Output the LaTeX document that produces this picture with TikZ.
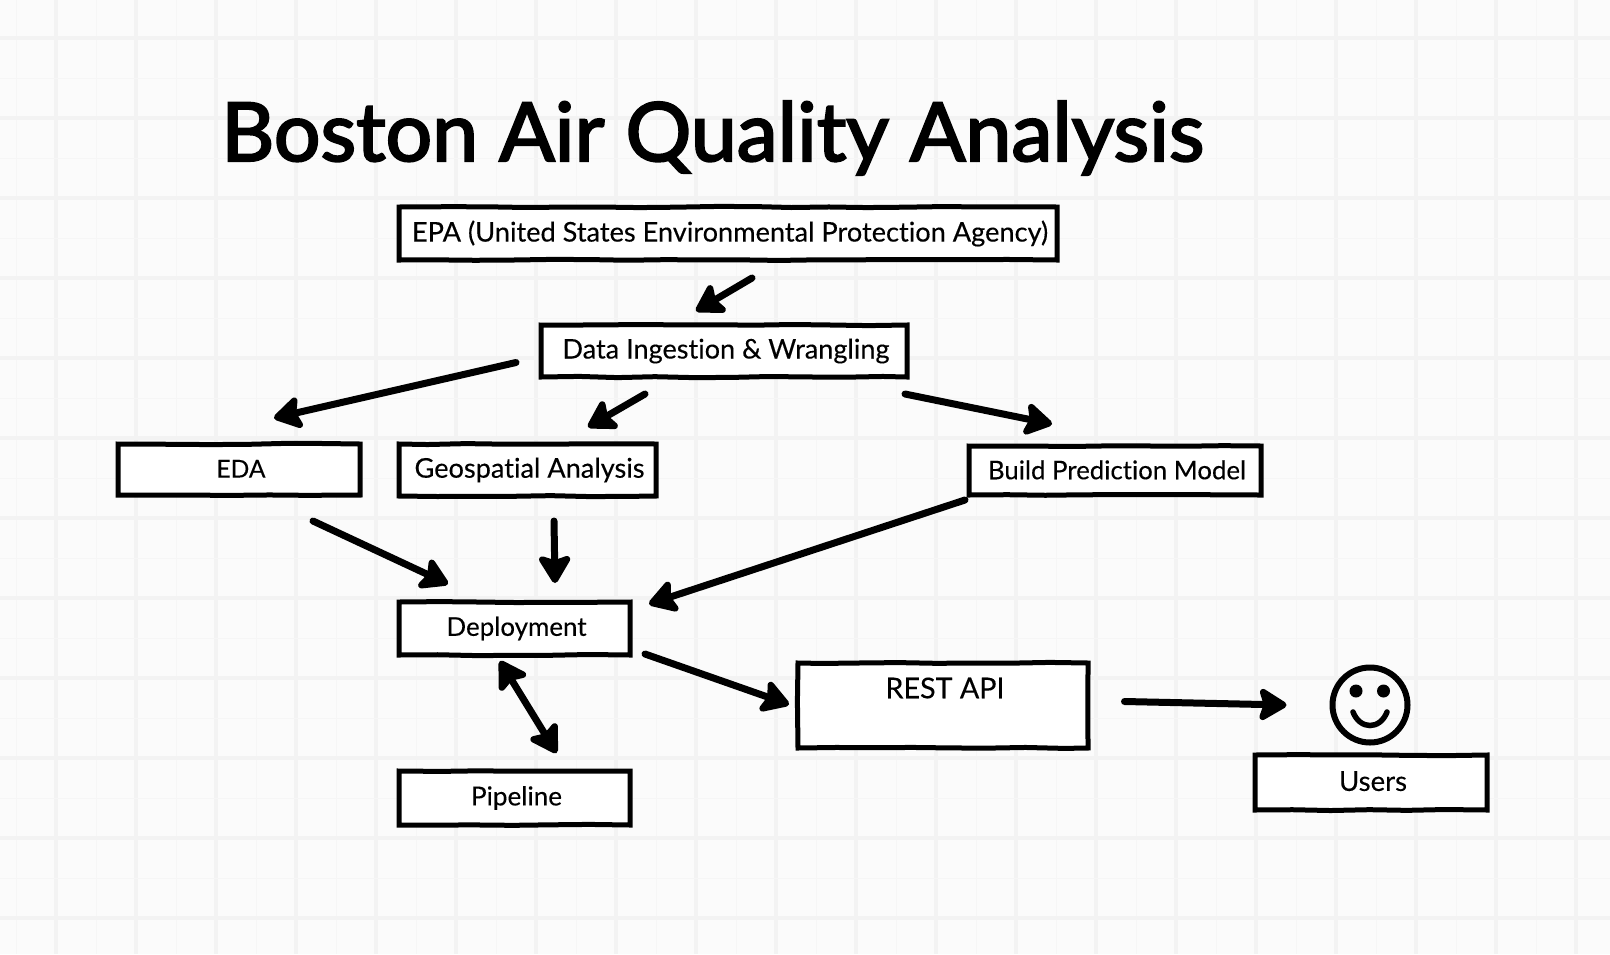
\documentclass[tikz,border=0pt]{standalone}
\usepackage{fontspec}
\setmainfont{Lato}[Ligatures=NoCommon]
\newfontfamily\titlefont{Lato}[Ligatures=NoCommon,FakeBold=2.6]
\newfontfamily\labelfont{Lato}[Ligatures=NoCommon,FakeBold=0.25]
\usetikzlibrary{arrows.meta,decorations.pathmorphing}
\definecolor{paper}{HTML}{FBFBFB}
\definecolor{gridmajor}{HTML}{F3F3F3}
\definecolor{gridminor}{HTML}{F6F6F6}
\newcommand{\lbl}[2]{\hspace{4pt}\raisebox{1.5pt}{\resizebox{#1 pt}{!}{\labelfont\fontsize{24}{28}\selectfont #2}}}
\tikzset{
  x=1pt,y=-1pt,
  box/.style={draw=black,fill=white,line width=5pt,inner sep=0pt,anchor=north west,
    decorate,decoration={random steps,segment length=38pt,amplitude=0.6pt}},
  headtip/.tip={Stealth[length=32pt,width=38pt,inset=6pt,round]},
  flow/.style={draw=black,line width=7pt,line cap=round,-headtip},
  flowboth/.style={draw=black,line width=7pt,line cap=round,headtip-headtip},
  face/.style={draw=black,line width=6pt,circle,inner sep=0pt,minimum size=75pt},
}
\newcommand{\boxat}[6]{%
  \node[box,minimum width=#4 pt - #2 pt - 3pt,minimum height=#5 pt - #3 pt - 3pt,xshift=-0.5pt,yshift=1.5pt] (#1) at (#2,#3) {#6};}
\begin{document}
\begin{tikzpicture}
\useasboundingbox (0,0) rectangle (1610,954);
\fill[paper] (0,0) rectangle (1610,954);
\foreach \k in {0,...,19} {
  \draw[gridminor,line width=1pt] ({16.5+80*\k},0) -- ({16.5+80*\k},954);
  \draw[gridmajor,line width=3.5pt] ({56+80*\k},0) -- ({56+80*\k},954);
}
\foreach \k in {0,...,11} {
  \draw[gridminor,line width=1pt] (0,{78.5+80*\k}) -- (1610,{78.5+80*\k});
  \draw[gridmajor,line width=3.5pt] (0,{38+80*\k}) -- (1610,{38+80*\k});
}
\pgfmathsetseed{7}
\node[anchor=base west,inner sep=0pt] (title) at (221,161)
  {\resizebox{983pt}{60pt}{\titlefont\fontsize{72}{80}\selectfont Boston Air Quality Analysis}};
\boxat{epa}{397}{206}{1058}{262}{\lbl{636}{EPA (United States Environmental Protection Agency)}}
\boxat{ingest}{539}{324}{908}{379}{\lbl{327}{Data Ingestion \& Wrangling}}
\boxat{eda}{116}{443}{361}{497}{\lbl{49}{EDA}}
\boxat{geo}{397}{443}{657}{498}{\lbl{230}{Geospatial Analysis}}
\boxat{build}{967}{445}{1262}{497}{\lbl{258}{Build Prediction Model}}
\boxat{deploy}{397}{601}{631}{657}{\lbl{140}{Deployment}}
\boxat{rest}{796}{662}{1089}{750}{}
\node[anchor=center,inner sep=0pt] (restlabel) at (945,688) {\resizebox{119pt}{!}{\labelfont\fontsize{24}{28}\selectfont REST API}};
\boxat{pipe}{397}{770}{631}{827}{\lbl{91}{Pipeline}}
\boxat{users}{1253}{754}{1488}{812}{\hspace{4pt}\raisebox{3pt}{\resizebox{68pt}{!}{\labelfont\fontsize{24}{28}\selectfont Users}}}
\node[face] (smiley) at (1370,705) {};
\fill (1356,691) circle (6.5);
\fill (1383.5,691) circle (6.5);
\draw[line width=5.5pt,line cap=round] (1353,712) .. controls (1360,730) and (1380,730) .. (1387,712);
% connectors: anchored on the named boxes
\draw[flow] ([xshift=24pt,yshift=-15.5pt]epa.south) -- ([xshift=-28pt,yshift=11.5pt]ingest.north);
\draw[flow] ([xshift=-22.5pt,yshift=-11.5pt]ingest.west) -- ([xshift=35pt,yshift=23.5pt]eda.north);
\draw[flow] ([xshift=-79pt,yshift=-14.5pt]ingest.south) -- ([xshift=60.5pt,yshift=14.5pt]geo.north);
\draw[flow] ([xshift=181pt,yshift=-14.5pt]ingest.south) -- ([xshift=-63pt,yshift=19.5pt]build.north);
\draw[flow] ([xshift=74pt,yshift=-23.5pt]eda.south) -- ([xshift=-66.5pt,yshift=15.5pt]deploy.north);
\draw[flow] ([xshift=26.5pt,yshift=-22.5pt]geo.south) -- ([xshift=40.5pt,yshift=16.5pt]deploy.north);
\draw[flow] ([xshift=-150pt,yshift=-2.5pt]build.south) -- ([xshift=134.5pt,yshift=-4.5pt]deploy.north);
\draw[flow] ([xshift=130.5pt,yshift=3.5pt]deploy.south) -- ([xshift=-6.5pt,yshift=1pt]rest.west);
\draw[flowboth] ([xshift=-14.5pt,yshift=-3.5pt]deploy.south) -- ([xshift=42pt,yshift=15.5pt]pipe.north);
\draw[flow] ([xshift=34pt,yshift=4pt]rest.east) -- ([xshift=-43pt]smiley.west);
\end{tikzpicture}
\end{document}
